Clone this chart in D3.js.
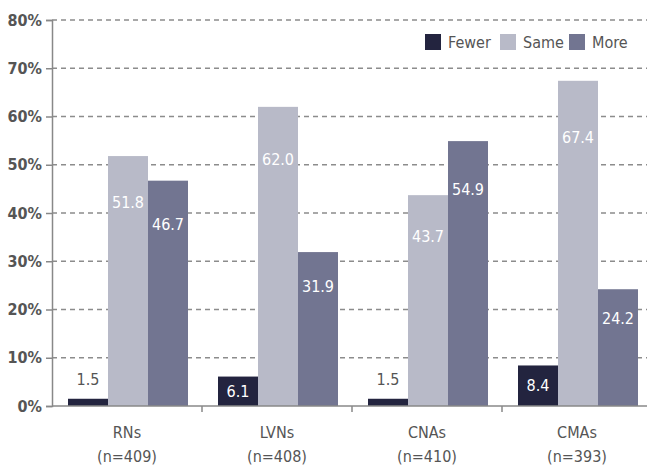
<!DOCTYPE html>
<html>
<head>
<meta charset="utf-8">
<script src="https://cdn.jsdelivr.net/npm/d3@7"></script>
<style>
  body { margin: 0; background: #fff; }
  text { font-family: "Liberation Sans Narrow", "DejaVu Sans Condensed", sans-serif; }
</style>
</head>
<body>
<svg id="chart" width="647" height="468"></svg>
<script>
var categories = ["RNs", "LVNs", "CNAs", "CMAs"];
var sampleSizes = ["(n=409)", "(n=408)", "(n=410)", "(n=393)"];
var seriesNames = ["Fewer", "Same", "More"];
var fewer = [1.5, 6.1, 1.5, 8.4];
var same = [51.8, 62.0, 43.7, 67.4];
var more = [46.7, 31.9, 54.9, 24.2];
var yTicks = [0, 10, 20, 30, 40, 50, 60, 70, 80];

var colors = { Fewer: "#23243f", Same: "#b8bac8", More: "#727591" };

var svg = d3.select("#chart"),
    margin = { top: 20, right: 0, bottom: 62, left: 52 },
    width = +svg.attr("width") - margin.left - margin.right,
    height = +svg.attr("height") - margin.top - margin.bottom;

var g = svg.append("g")
    .attr("transform", "translate(" + margin.left + "," + margin.top + ")");

var x0 = d3.scaleBand().domain(categories).range([0, 600]).paddingInner(0).paddingOuter(0);
var x1 = d3.scaleBand().domain(seriesNames).range([16, x0.bandwidth() - 14]);
var y = d3.scaleLinear().domain([0, 80]).range([height, 0]);

// grid lines
g.selectAll(".grid")
 .data(yTicks.filter(function(d) { return d > 0; }))
 .enter().append("line")
 .attr("x1", 0).attr("x2", width)
 .attr("y1", function(d) { return y(d); })
 .attr("y2", function(d) { return y(d); })
 .attr("stroke", "#8c8c8c")
 .attr("stroke-width", 1.3)
 .attr("stroke-dasharray", "5,4");

var data = categories.map(function(c, i) {
    return { cat: c, vals: [
        { key: "Fewer", v: fewer[i] },
        { key: "Same", v: same[i] },
        { key: "More", v: more[i] }
    ] };
});

var groups = g.selectAll(".grp")
 .data(data)
 .enter().append("g")
 .attr("transform", function(d) { return "translate(" + x0(d.cat) + ",0)"; });

groups.selectAll("rect")
 .data(function(d) { return d.vals; })
 .enter().append("rect")
 .attr("x", function(d) { return x1(d.key); })
 .attr("y", function(d) { return y(d.v); })
 .attr("width", x1.bandwidth())
 .attr("height", function(d) { return height - y(d.v); })
 .attr("fill", function(d) { return colors[d.key]; });

groups.selectAll(".val")
 .data(function(d) { return d.vals; })
 .enter().append("text")
 .attr("class", "val")
 .attr("x", function(d) { return x1(d.key) + x1.bandwidth() / 2; })
 .attr("y", function(d) {
     var h = height - y(d.v);
     if (h < 20) return y(d.v) - 19;
     if (h < 60) return y(d.v) + h / 2;
     return y(d.v) + 14 + 0.13 * h;
 })
 .attr("dy", "0.35em")
 .attr("text-anchor", "middle")
 .attr("font-size", "16px")
 .attr("fill", function(d) { return (height - y(d.v)) < 20 ? "#555" : "#fff"; })
 .text(function(d) { return d.v.toFixed(1); });

// y axis
var yAxis = g.append("g")
 .call(d3.axisLeft(y).tickValues(yTicks).tickSize(6).tickPadding(4)
       .tickFormat(function(d) { return d + "%"; }));
yAxis.select(".domain").attr("stroke", "#888").attr("stroke-width", 1.5);
yAxis.selectAll(".tick line").attr("stroke", "#888").attr("stroke-width", 1.5);
yAxis.selectAll(".tick text")
 .attr("font-size", "16px")
 .attr("font-weight", "bold")
 .attr("fill", "#555")
 .style("font-family", "'Liberation Sans Narrow', 'DejaVu Sans Condensed', sans-serif");

// x axis
var xAxis = g.append("g")
 .attr("transform", "translate(0," + height + ")");
xAxis.append("line")
 .attr("x1", 0).attr("x2", width)
 .attr("stroke", "#888").attr("stroke-width", 1.5);
xAxis.selectAll(".xt")
 .data(categories.slice(1))
 .enter().append("line")
 .attr("x1", function(d) { return x0(d); })
 .attr("x2", function(d) { return x0(d); })
 .attr("y1", 0).attr("y2", 6)
 .attr("stroke", "#888").attr("stroke-width", 1.5);
xAxis.selectAll(".xl")
 .data(categories)
 .enter().append("text")
 .attr("x", function(d) { return x0(d) + x0.bandwidth() / 2; })
 .attr("y", 32)
 .attr("text-anchor", "middle")
 .attr("font-size", "16px")
 .attr("fill", "#555")
 .text(function(d) { return d; });
xAxis.selectAll(".xn")
 .data(sampleSizes)
 .enter().append("text")
 .attr("x", function(d, i) { return x0(categories[i]) + x0.bandwidth() / 2; })
 .attr("y", 56)
 .attr("text-anchor", "middle")
 .attr("font-size", "16px")
 .attr("fill", "#555")
 .text(function(d) { return d; });

// legend
var legendX = [373, 448, 517];
var legend = g.selectAll(".leg")
 .data(seriesNames)
 .enter().append("g")
 .attr("transform", function(d, i) { return "translate(" + legendX[i] + ",14)"; });
legend.append("rect")
 .attr("width", 16).attr("height", 16)
 .attr("fill", function(d) { return colors[d]; });
legend.append("text")
 .attr("x", 23).attr("y", 8)
 .attr("dy", "0.35em")
 .attr("font-size", "16px")
 .attr("fill", "#555")
 .text(function(d) { return d; });
</script>
</body>
</html>
